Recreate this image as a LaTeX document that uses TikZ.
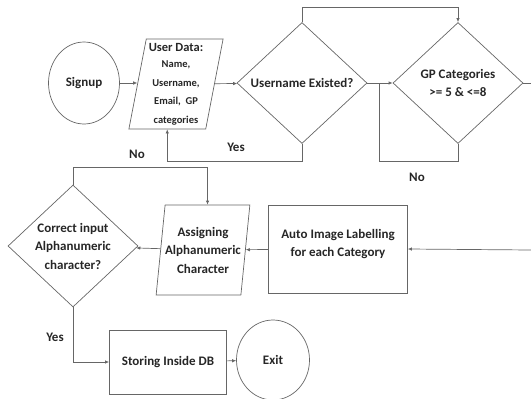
\documentclass[tikz,border=0pt]{standalone}
\usepackage{fontspec}
\setmainfont{Carlito}
\usetikzlibrary{shapes.geometric,arrows.meta,calc}

\newcommand{\smtxt}{\fontsize{10.5}{14.5}\selectfont}

\tikzset{
  flow/.style={draw=black!60,line width=0.7pt},
  txt/.style={font=\bfseries\fontsize{13}{18.5}\selectfont,text=black!85,align=center},
  term/.style={flow,txt,ellipse,inner sep=0pt,minimum width=71pt,minimum height=82pt},
  decide/.style={flow,txt,diamond,inner sep=0pt,minimum width=130pt,minimum height=121pt},
  iobox/.style={flow,txt,trapezium,trapezium left angle=79,trapezium right angle=101,
    trapezium stretches=true,inner sep=0pt,minimum width=90pt,minimum height=90pt},
  procbox/.style={flow,txt,rectangle,inner sep=0pt},
  link/.style={flow,-{Latex[length=4pt,width=3.5pt]}},
  lbl/.style={txt}
}

\begin{document}
\begin{tikzpicture}[x=1pt,y=-1pt]
  \useasboundingbox (0,0) rectangle (531,399);

  % top row
  \node[term] (signup) at (84,83) {Signup};
  \node[iobox,minimum width=95pt] (userdata) at (176,84) {\fontsize{12.5}{17}\selectfont User Data:\\[-2pt]\smtxt Name,\\\smtxt Username,\\\smtxt Email,\ \ GP\\\smtxt categories};
  \node[decide] (uexist) at (302,83) {Username Existed?};
  \node[decide] (gpcat) at (458,83) {GP Categories\\>= 5 \& <=8};

  % middle row
  \node[procbox,minimum width=139pt,minimum height=88pt] (autolab) at (338,249) {Auto Image Labelling\\for each Category\\[-6pt]};
  \node[iobox] (assign) at (203,250) {Assigning\\Alphanumeric\\Character};
  \node[decide] (correct) at (73,246) {Correct input\\Alphanumeric\\character?};

  % bottom row
  \node[procbox,minimum width=117pt,minimum height=64pt] (store) at (168,362) {Storing Inside DB};
  \node[term,minimum width=73pt,minimum height=80pt] (exitn) at (273,360) {Exit};

  % helper points
  \coordinate (udbot) at ($(userdata.bottom left corner)!0.5!(userdata.bottom right corner)$);
  \coordinate (astop) at ($(assign.top left corner)!0.5!(assign.top right corner)$);
  \coordinate (gpjoin) at (379,83);
  \coordinate (gpout) at (531,83);
  \coordinate (autoin) at (531,250);

  % connectors
  \draw[link] (signup) -- (signup -| userdata.west);
  \draw[link] (userdata) -- (uexist);
  \draw[link] (uexist) -- (gpcat);
  \draw[link] (uexist.north) -- ++(0,-15) -| (gpcat.north);
  \draw[flow] (gpcat.south) -- ++(0,17) -| (gpjoin);
  \draw[link] (uexist.south) -- ++(0,17) -| (udbot);
  \draw[flow] (gpcat.east) -- (gpout);
  \draw[link] (autoin) -- (autolab.east);
  \draw[link] (autolab) -- (assign);
  \draw[link] (assign) -- (correct);
  \draw[link] (correct.north) -- ++(0,-17) -| (astop);
  \draw[link] (correct.south) |- (store.west);
  \draw[link] (store) -- (exitn);

  % labels
  \node[lbl] (yes1) at (236,147) {Yes};
  \node[lbl] (no1) at (417,177) {No};
  \node[lbl] (no2) at (137,154) {No};
  \node[lbl] (yes2) at (55,337) {Yes};
\end{tikzpicture}
\end{document}
